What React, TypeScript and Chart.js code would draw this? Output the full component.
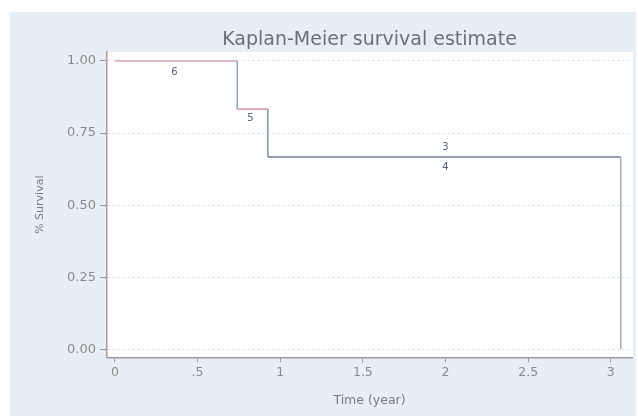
import React, { useEffect, useRef } from 'react';
import { Chart, registerables } from 'chart.js';

Chart.register(...registerables);

// Kaplan-Meier step data (time in years, survival fraction)
const kmTimes = [0, 0.74, 0.925, 3.06];
const kmSurvival = [1, 0.833, 0.667, 0];

// number at risk labels printed on the curve
const riskTimes = [0.36, 0.82, 2.0, 2.0];
const riskLevels = [1, 0.833, 0.667, 0.667];
const riskCounts = ['6', '5', '3', '4'];
const riskShift = [11, 9, -10, 10];

const xTickValues = [0, 0.5, 1, 1.5, 2, 2.5, 3];
const xTickLabels = ['0', '.5', '1', '1.5', '2', '2.5', '3'];
const yTickValues = [0, 0.25, 0.5, 0.75, 1];
const yTickLabels = ['0.00', '0.25', '0.50', '0.75', '1.00'];

const chartTitle = 'Kaplan-Meier survival estimate';

const segmentColors = ['#d9a3b4', '#9aa6bb', '#d9a3b4', '#8e9ab0', '#6f7b90', '#a9b0bf'];

const FONT = "'DejaVu Sans', sans-serif";

// turn the survival table into step points
function stepPoints() {
  const pts: { x: number; y: number }[] = [];
  for (let i = 0; i < kmTimes.length; i++) {
    if (i > 0) pts.push({ x: kmTimes[i], y: kmSurvival[i - 1] });
    pts.push({ x: kmTimes[i], y: kmSurvival[i] });
  }
  return pts;
}

const backdrop = {
  id: 'backdrop',
  beforeDraw(chart: any) {
    const { ctx, chartArea } = chart;
    ctx.save();
    ctx.fillStyle = '#e8eef6';
    ctx.fillRect(10, 12, 626, 404);
    ctx.fillStyle = '#ffffff';
    ctx.fillRect(chartArea.left, chartArea.top, chartArea.right - chartArea.left + 1, chartArea.bottom - chartArea.top);
    // title centred over the plot region, like Stata does
    ctx.font = `19px ${FONT}`;
    ctx.fillStyle = '#6b6f78';
    ctx.textAlign = 'center';
    ctx.textBaseline = 'alphabetic';
    ctx.fillText(chartTitle, (chartArea.left + chartArea.right) / 2, 45);
    ctx.restore();
  },
};

const atRisk = {
  id: 'atRisk',
  afterDatasetsDraw(chart: any) {
    const { ctx, scales } = chart;
    ctx.save();
    ctx.font = `10px ${FONT}`;
    ctx.fillStyle = '#5a6478';
    ctx.textAlign = 'center';
    ctx.textBaseline = 'middle';
    riskCounts.forEach((label, i) => {
      const x = scales.x.getPixelForValue(riskTimes[i]);
      const y = scales.y.getPixelForValue(riskLevels[i]) + riskShift[i];
      ctx.fillText(label, x, y);
    });
    ctx.restore();
  },
};

export default function App() {
  const canvasRef = useRef<HTMLCanvasElement | null>(null);
  const chartRef = useRef<Chart | null>(null);

  useEffect(() => {
    document.body.style.margin = '0';
    if (!canvasRef.current) return;
    if (chartRef.current) chartRef.current.destroy();

    chartRef.current = new Chart(canvasRef.current, {
      type: 'line',
      data: {
        datasets: [
          {
            label: 'Survival',
            data: stepPoints(),
            borderWidth: 1.6,
            pointRadius: 0,
            tension: 0,
            fill: false,
            borderColor: '#6f7b90',
            segment: {
              borderColor: (c: any) => segmentColors[c.p0DataIndex] || '#6f7b90',
            },
          },
        ],
      },
      options: {
        responsive: false,
        animation: false,
        layout: { padding: { left: 30, right: 6, top: 52, bottom: 8 } },
        plugins: {
          legend: { display: false },
          tooltip: { enabled: false },
          title: { display: false },
        },
        scales: {
          x: {
            type: 'linear',
            min: -0.048,
            max: 3.128,
            afterBuildTicks: (s: any) => {
              s.ticks = xTickValues.map((v) => ({ value: v }));
            },
            afterFit: (s: any) => {
              s.height = 53.6;
            },
            ticks: {
              autoSkip: false,
              maxRotation: 0,
              padding: 3,
              color: '#8a8a8a',
              font: { family: FONT, size: 12.5 },
              callback: (v: any) => {
                const i = xTickValues.indexOf(Number(v));
                return i >= 0 ? xTickLabels[i] : '';
              },
            },
            grid: { drawOnChartArea: false, tickLength: 5, tickColor: '#9a9a9a' },
            border: { color: '#9c9ca6', width: 1.4 },
            title: {
              display: true,
              text: 'Time (year)',
              color: '#7a7a7a',
              font: { family: FONT, size: 12.5 },
              padding: { top: 4, bottom: 3 },
            },
          },
          y: {
            type: 'linear',
            min: -0.028,
            max: 1.031,
            afterBuildTicks: (s: any) => {
              s.ticks = yTickValues.map((v) => ({ value: v }));
            },
            afterFit: (s: any) => {
              s.width = 77;
            },
            ticks: {
              padding: 4,
              color: '#8a8a8a',
              font: { family: FONT, size: 13 },
              callback: (v: any) => {
                const i = yTickValues.indexOf(Number(v));
                return i >= 0 ? yTickLabels[i] : '';
              },
            },
            grid: { color: '#d3e0ef', lineWidth: 1, tickLength: 7, tickColor: '#9a9a9a' },
            border: { color: '#b0969f', width: 1.5, dash: [2, 3] },
            title: {
              display: true,
              text: '% Survival',
              color: '#7a7a7a',
              font: { family: FONT, size: 11 },
              padding: { top: 4, bottom: 4 },
            },
          },
        },
      },
      plugins: [backdrop, atRisk],
    });

    return () => {
      if (chartRef.current) {
        chartRef.current.destroy();
        chartRef.current = null;
      }
    };
  }, []);

  return (
    <div style={{ width: 638, height: 419 }}>
      <canvas ref={canvasRef} width={638} height={419} />
    </div>
  );
}
